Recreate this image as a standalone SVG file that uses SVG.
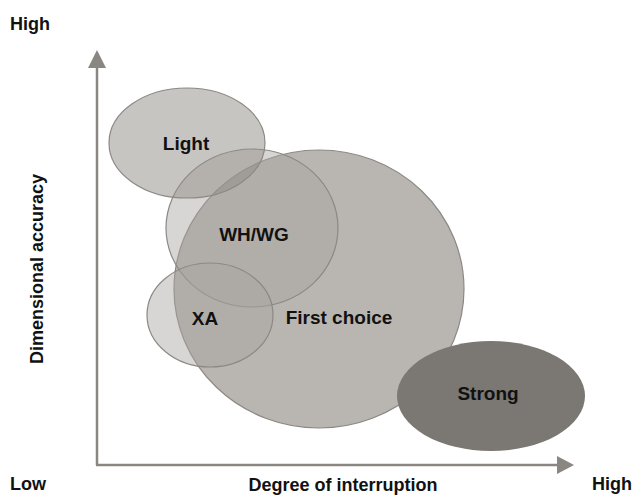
<svg xmlns="http://www.w3.org/2000/svg" width="638" height="495" viewBox="0 0 638 495">
<style>
text{font-family:"Liberation Sans",Arial,sans-serif;font-weight:bold;fill:#111;}
.lbl{font-size:19px;text-anchor:middle;}
.ax{font-size:18px;}
.bub{stroke:#8c8884;stroke-width:1.2;}
</style>
<rect width="638" height="495" fill="#fff"/>
<g id="axes">
<line x1="97" y1="465" x2="97" y2="68" stroke="#8a8782" stroke-width="2.5"/>
<path d="M97,50 L106,68 L88,68 Z" fill="#8a8782"/>
<line x1="96" y1="465" x2="557" y2="465" stroke="#8a8782" stroke-width="2.5"/>
<path d="M574,465 L557,456 L557,474 Z" fill="#8a8782"/>
</g>
<g id="first-choice"><ellipse class="bub" cx="319" cy="289" rx="145" ry="139" fill="#b9b6b2"/></g>
<g id="wh-wg"><ellipse class="bub" cx="252" cy="228" rx="86" ry="79" fill="#a8a49f" fill-opacity="0.45"/></g>
<g id="xa"><ellipse class="bub" cx="210" cy="315" rx="63" ry="52" fill="#a8a49f" fill-opacity="0.45"/></g>
<g id="light"><ellipse class="bub" cx="187" cy="143" rx="78" ry="55" fill="#8f8b86" fill-opacity="0.5"/></g>
<g id="strong"><ellipse cx="491" cy="396" rx="94" ry="55" fill="#7b7773"/></g>
<g id="labels">
<text class="lbl" x="186" y="150">Light</text>
<text class="lbl" x="254" y="241">WH/WG</text>
<text class="lbl" x="205" y="325">XA</text>
<text class="lbl" x="339" y="324">First choice</text>
<text class="lbl" x="488" y="400">Strong</text>
<text class="ax" x="10" y="30">High</text>
<text class="ax" x="10" y="490">Low</text>
<text class="ax" x="592" y="490">High</text>
<text class="ax" x="343" y="491" text-anchor="middle">Degree of interruption</text>
<text class="ax" transform="translate(43,269) rotate(-90)" text-anchor="middle">Dimensional accuracy</text>
</g>
</svg>
